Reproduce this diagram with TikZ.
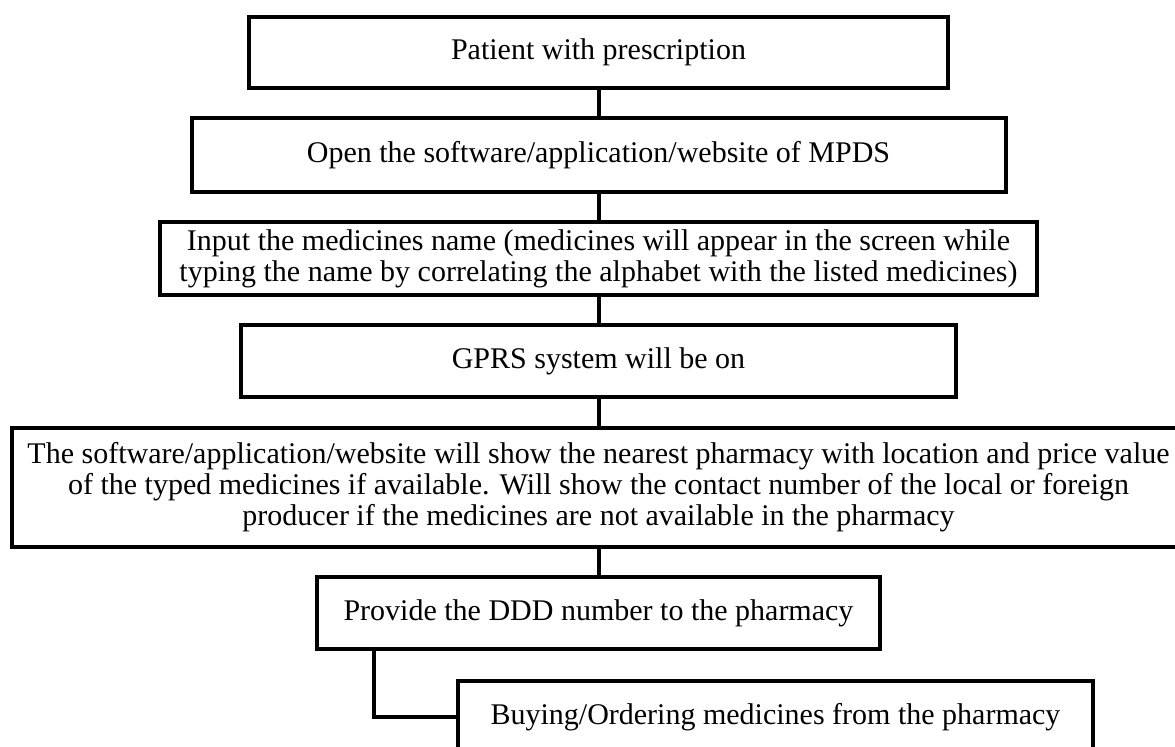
\documentclass[tikz,border=0pt]{standalone}
\usepackage{fontspec}
\setmainfont{Liberation Serif}

\begin{document}
\begin{tikzpicture}[x=0.5pt,y=-0.5pt,
	box/.style={draw, line width=2pt, align=center, inner sep=0pt,
		font=\fontsize{15}{15.5}\selectfont}]
	\useasboundingbox (0,0) rectangle (1175,747);
	\clip (0,0) rectangle (1175,747);

	\node[box, minimum width=349.5pt, minimum height=35.5pt] at (598.5,52.5) (patient) {Patient with prescription};
	\node[box, minimum width=407pt, minimum height=37pt] at (598.5,155) (open) {Open the software/application/website of MPDS};
	\node[box, minimum width=438.5pt, minimum height=36.5pt] at (598.5,258.5) (input) {Input the medicines name (medicines will appear in the screen while\\typing the name by correlating the alphabet with the listed medicines)};
	\node[box, minimum width=357.5pt, minimum height=36pt] at (598.5,361) (gprs) {GPRS system will be on};
	\node[box, minimum width=586.5pt, minimum height=59.5pt] at (598.5,487.5) (show) {The software/application/website will show the nearest pharmacy with location and price value\\of the typed medicines if available. Will show the contact number of the local or foreign\\producer if the medicines are not available in the pharmacy};
	\node[box, minimum width=281.5pt, minimum height=36pt] at (598.5,613) (ddd) {Provide the DDD number to the pharmacy};
	\node[box, minimum width=317.5pt, minimum height=36pt] at (775.5,717) (buy) {Buying/Ordering medicines from the pharmacy};
	\coordinate (bend) at (374,649);

	\draw[line width=2pt] (patient) -- (open);
	\draw[line width=2pt] (open) -- (input);
	\draw[line width=2pt] (input) -- (gprs);
	\draw[line width=2pt] (gprs) -- (show);
	\draw[line width=2pt] (show) -- (ddd);
	\draw[line width=2pt] (bend) |- (buy.west);
\end{tikzpicture}
\end{document}
